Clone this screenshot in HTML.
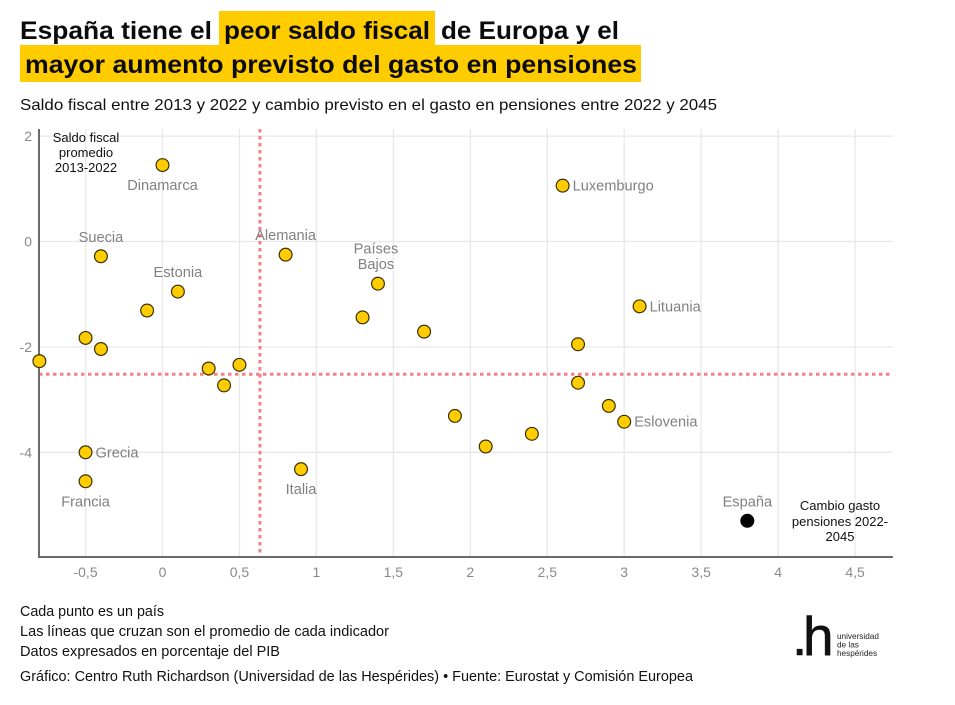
<!DOCTYPE html>
<html lang="es">
<head>
<meta charset="utf-8">
<title>España: saldo fiscal y gasto en pensiones</title>
<style>
html,body{margin:0;padding:0;background:#fff;}
svg{display:block;font-family:"Liberation Sans",sans-serif;}
.t{font-weight:700;font-size:25px;fill:#0b0b0b;}
.s{font-size:16px;fill:#111;}
.f{font-size:14.5px;fill:#111;}
.tick{font-size:14px;fill:#8a8a8a;}
.lab{font-size:14.6px;fill:#808080;}
.ann{font-size:13px;fill:#111;text-anchor:middle;}
</style>
</head>
<body>
<svg id="chart" width="955" height="705" viewBox="0 0 955 705" xmlns="http://www.w3.org/2000/svg">
  <rect x="0" y="0" width="955" height="705" fill="#ffffff"/>
  <rect x="219" y="11" width="216" height="35" fill="#ffcc00"/>
  <rect x="20" y="45" width="621" height="37" fill="#ffcc00"/>
  <text class="t" x="20" y="39" textLength="192" lengthAdjust="spacingAndGlyphs">España tiene el</text>
  <text class="t" x="224" y="39" textLength="206" lengthAdjust="spacingAndGlyphs">peor saldo fiscal</text>
  <text class="t" x="441" y="39" textLength="178" lengthAdjust="spacingAndGlyphs">de Europa y el</text>
  <text class="t" x="25" y="73" textLength="612" lengthAdjust="spacingAndGlyphs">mayor aumento previsto del gasto en pensiones</text>
  <text class="s" x="20" y="110" textLength="697" lengthAdjust="spacingAndGlyphs">Saldo fiscal entre 2013 y 2022 y cambio previsto en el gasto en pensiones entre 2022 y 2045</text>

  <g id="grid"></g>
  <g id="means"></g>
  <g id="axes"></g>
  <g id="marks"></g>
  <g id="labels"></g>

  <text class="ann"><tspan x="86" y="142">Saldo fiscal</tspan><tspan x="86" y="157">promedio</tspan><tspan x="86" y="172">2013-2022</tspan></text>
  <text class="ann"><tspan x="840" y="510">Cambio gasto</tspan><tspan x="840" y="526">pensiones 2022-</tspan><tspan x="840" y="541">2045</tspan></text>

  <text class="f" x="20" y="616" textLength="144" lengthAdjust="spacingAndGlyphs">Cada punto es un país</text>
  <text class="f" x="20" y="636" textLength="369" lengthAdjust="spacingAndGlyphs">Las líneas que cruzan son el promedio de cada indicador</text>
  <text class="f" x="20" y="656" textLength="260" lengthAdjust="spacingAndGlyphs">Datos expresados en porcentaje del PIB</text>
  <text class="f" x="20" y="681" textLength="673" lengthAdjust="spacingAndGlyphs">Gráfico: Centro Ruth Richardson (Universidad de las Hespérides) • Fuente: Eurostat y Comisión Europea</text>

  <g>
    <text font-size="55" fill="#111" stroke="#111" stroke-width="0.6"><tspan x="792" y="655">.</tspan><tspan x="803" y="655">h</tspan></text>
    <text font-size="8.2" fill="#222"><tspan x="837" y="639">universidad</tspan><tspan x="837" y="647.5">de las</tspan><tspan x="837" y="656">hespérides</tspan></text>
  </g>
</svg>
<script>
const countries = ["Dinamarca","Luxemburgo","Suecia","Alemania","Países Bajos","Estonia","","","","Lituania","","","","","","","","","","Eslovenia","","","","Grecia","Italia","Francia","España"];
const pensionChange = [0,2.6,-0.4,0.8,1.4,0.1,-0.1,1.3,1.7,3.1,-0.5,-0.4,-0.8,2.7,0.5,0.3,0.4,2.7,2.9,3.0,1.9,2.4,2.1,-0.5,0.9,-0.5,3.8];
const fiscalBalance = [1.45,1.06,-0.28,-0.25,-0.80,-0.95,-1.31,-1.44,-1.71,-1.23,-1.83,-2.04,-2.27,-1.95,-2.34,-2.41,-2.73,-2.68,-3.12,-3.42,-3.31,-3.65,-3.89,-4.0,-4.32,-4.55,-5.3];
const labelSides = ["below","right","above","above","above2","above","","","","right","","","","","","","","","","right","","","","right","below","below","above"];
const highlighted = "España";
const xTicks = [-0.5,0,0.5,1,1.5,2,2.5,3,3.5,4,4.5];
const xTickLabels = ["-0,5","0","0,5","1","1,5","2","2,5","3","3,5","4","4,5"];
const yTicks = [2,0,-2,-4];
const yTickLabels = ["2","0","-2","-4"];
const meanPension = 0.633;
const meanFiscal = -2.52;

const SVGNS = "http://www.w3.org/2000/svg";
const plot = {left:39, right:893, top:129, bottom:557};
function xScale(v){ return 162.5 + v * 153.9; }
function yScale(v){ return 241.5 - v * 52.7; }
function make(tag, parent){
  const el = document.createElementNS(SVGNS, tag);
  parent.appendChild(el);
  return el;
}
function line(parent, x1, y1, x2, y2, color, width){
  const el = make("line", parent);
  el.setAttribute("x1", x1);
  el.setAttribute("y1", y1);
  el.setAttribute("x2", x2);
  el.setAttribute("y2", y2);
  el.setAttribute("stroke", color);
  el.setAttribute("stroke-width", width);
  return el;
}
function text(parent, x, y, str, cls, anchor){
  const el = make("text", parent);
  el.setAttribute("x", x);
  el.setAttribute("y", y);
  el.setAttribute("class", cls);
  el.setAttribute("text-anchor", anchor);
  el.textContent = str;
  return el;
}

const grid = document.getElementById("grid");
const axes = document.getElementById("axes");
const means = document.getElementById("means");
const marks = document.getElementById("marks");
const labels = document.getElementById("labels");

xTicks.forEach(function(t, i){
  const g = line(grid, xScale(t), plot.top, xScale(t), plot.bottom, "#e8e8e8", 1.3);
  
  
  const l = text(axes, xScale(t), 577, xTickLabels[i], "tick", "middle");
  
  
});
yTicks.forEach(function(t, i){
  const g = line(grid, plot.left, yScale(t), plot.right, yScale(t), "#e8e8e8", 1.3);
  
  
  const l = text(axes, 32, yScale(t) + 5, yTickLabels[i], "tick", "end");
  
  
});

const vMean = line(means, xScale(meanPension), plot.top, xScale(meanPension), plot.bottom, "#f5808a", 3);
vMean.setAttribute("stroke-dasharray", "3.5 3.5");


const hMean = line(means, plot.left, yScale(meanFiscal), plot.right, yScale(meanFiscal), "#f5808a", 3);
hMean.setAttribute("stroke-dasharray", "3.5 3.5");



const yAxis = line(axes, plot.left, plot.top, plot.left, plot.bottom + 1, "#6b6b6b", 2);


const xAxis = line(axes, plot.left, plot.bottom, plot.right, plot.bottom, "#6b6b6b", 2);



pensionChange.forEach(function(v, i){
  const cx = xScale(v);
  const cy = yScale(fiscalBalance[i]);
  const isHi = countries[i] === highlighted;
  const c = make("circle", marks);
  c.setAttribute("cx", cx);
  c.setAttribute("cy", cy);
  c.setAttribute("r", isHi ? 7 : 6.4);
  c.setAttribute("fill", isHi ? "#000000" : "#ffcc00");
  c.setAttribute("stroke", isHi ? "#000000" : "#3a3000");
  c.setAttribute("stroke-width", isHi ? 0 : 1.2);
  
  

  const name = countries[i];
  const side = labelSides[i];
  if(!name) return;
  let el;
  if(side === "right"){
    el = text(labels, cx + 10, cy + 5, name, "lab", "start");
  } else if(side === "below"){
    el = text(labels, cx, cy + 25, name, "lab", "middle");
  } else if(side === "above"){
    el = text(labels, cx, cy - 14.5, name, "lab", "middle");
  } else {
    const words = name.split(" ");
    el = text(labels, cx - 2, cy - 30, words[0], "lab", "middle");
    const second = text(labels, cx - 2, cy - 14.5, words[1], "lab", "middle");
    
    
  }
  
  
});
</script>
</body>
</html>
